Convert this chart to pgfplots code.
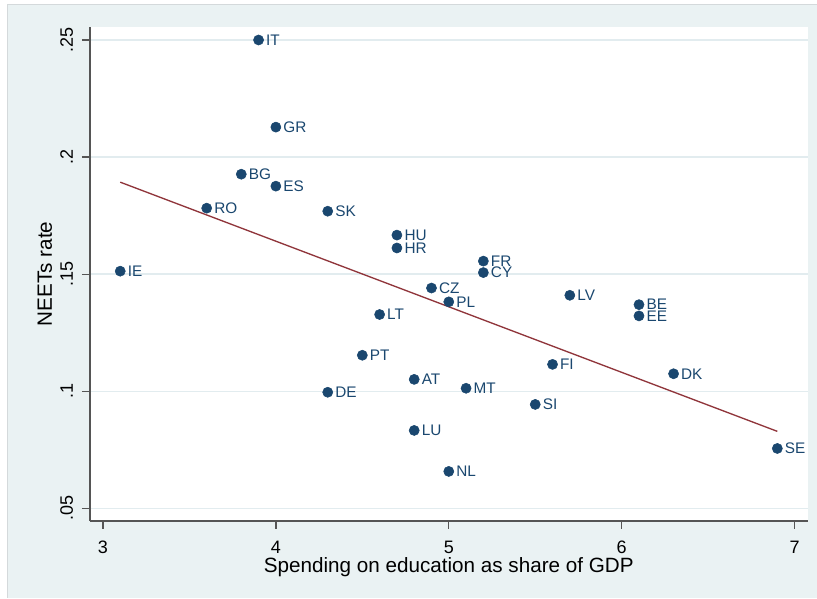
\documentclass[border=0pt]{standalone}
\usepackage{pgfplots}
\pgfplotsset{compat=1.18}
\usepackage{pgfplotstable}
\usepackage{fontspec}
\setmainfont{Liberation Sans}

\definecolor{navy}{RGB}{26,71,111}
\definecolor{fitred}{RGB}{144,53,59}
\definecolor{regionbg}{RGB}{234,242,243}
\definecolor{gridcol}{RGB}{226,236,239}
\definecolor{axiscol}{RGB}{85,85,85}
\definecolor{edgecol}{RGB}{212,217,219}

% NEETs rate against education spending (% of GDP), by country
\pgfplotstableread{
x    y      lab
3.9  0.2500 IT
4.0  0.2128 GR
3.8  0.1927 BG
4.0  0.1876 ES
3.6  0.1782 RO
4.3  0.1769 SK
3.1  0.1513 IE
4.7  0.1667 HU
4.7  0.1612 HR
5.2  0.1556 FR
5.2  0.1507 CY
4.9  0.1441 CZ
5.0  0.1382 PL
5.7  0.1410 LV
6.1  0.1370 BE
6.1  0.1322 EE
4.6  0.1328 LT
4.5  0.1154 PT
5.6  0.1115 FI
6.3  0.1075 DK
4.8  0.1051 AT
5.1  0.1013 MT
4.3  0.0996 DE
5.5  0.0944 SI
4.8  0.0833 LU
5.0  0.0658 NL
6.9  0.0756 SE
}\neets

% Linear fit
\pgfplotstableread{
x    y
3.1  0.1893
6.9  0.0829
}\fitline

\begin{document}
\begin{tikzpicture}
% graph region
\fill[white] (-67.5pt,-57.75pt) rectangle (545.25pt,390.75pt);
\fill[regionbg] (-62.25pt,-57.75pt) rectangle (545.25pt,387.75pt);
\draw[edgecol, line width=0.6pt] (-62.25pt,-57.75pt) -- (-62.25pt,387.75pt) -- (545.25pt,387.75pt);
\begin{axis}[
  at={(0pt,0pt)}, anchor=south west,
  scale only axis,
  width=538.5pt, height=370.5pt,
  xmin=2.9249, xmax=7.0751,
  ymin=0.04474, ymax=0.25556,
  axis background/.style={fill=white},
  axis x line*=bottom, axis y line*=left,
  axis line style={axiscol, line width=1.2pt},
  tick align=outside,
  major tick length=6pt,
  tick style={axiscol, line width=1pt},
  xtick={3,4,5,6,7},
  ytick={0.05,0.1,0.15,0.2,0.25},
  yticklabels={.05,.1,.15,.2,.25},
  /pgf/number format/assume math mode=true,
  ymajorgrids,
  major grid style={gridcol, line width=1.2pt},
  tick label style={font=\fontsize{13.5}{16}\selectfont, text=black},
  xticklabel style={anchor=north, inner sep=0pt, yshift=-9pt},
  yticklabel style={rotate=90, anchor=base, inner sep=0pt, yshift=6.75pt},
  xlabel={Spending on education as share of GDP},
  ylabel={NEETs rate},
  label style={font=\fontsize{15.5}{18}\selectfont},
  xlabel style={at={(axis description cs:0.5,0)}, anchor=base, yshift=-39pt},
  ylabel style={at={(axis description cs:-0.0529,0.5)}, anchor=base},
  clip=false,
]
\addplot[fitred, line width=1pt] table[x=x, y=y] {\fitline};
\addplot[only marks, mark=*, mark size=3.8pt, navy,
  nodes near coords, point meta=explicit symbolic,
  every node near coord/.append style={anchor=west, inner sep=0pt, xshift=5.5pt,
    font=\fontsize{11.5}{13}\selectfont, text=navy}]
  table[x=x, y=y, meta=lab] {\neets};
\end{axis}
\end{tikzpicture}
\end{document}
